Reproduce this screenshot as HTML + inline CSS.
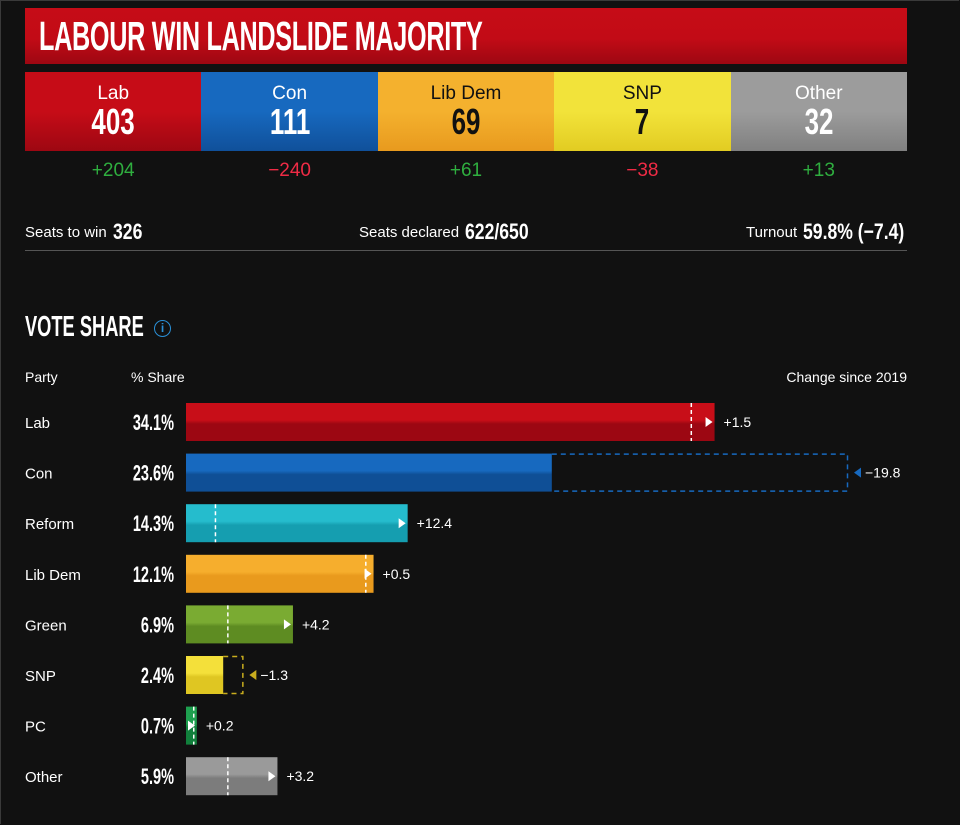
<!DOCTYPE html>
<html><head><meta charset="utf-8"><style>
body{margin:0;background:#111;width:960px;height:825px;overflow:hidden;font-family:"Liberation Sans",sans-serif;color:#fff;position:relative}
.frame{position:absolute;left:0;top:0;width:958px;height:823px;border:1px solid #3a3a3a;border-right:none;border-bottom:none}
.cond{font-weight:bold;display:inline-block}
.banner{position:absolute;left:25px;top:8px;width:882px;height:56px;background:linear-gradient(#c60c17 0%,#c20b16 55%,#9d0712 100%)}
.banner span{position:absolute;left:14px;top:5px;font-size:41px;letter-spacing:-0.5px;transform:scaleX(0.615);transform-origin:left;white-space:nowrap}
.seat{position:absolute;top:72px;height:79px;width:176.4px;text-align:center}
.seat .n{font-size:19px;margin-top:11px}
.seat .v{font-size:36px;line-height:34px;transform:scaleX(0.72)}
.chg{position:absolute;top:160px;width:176.4px;text-align:center;font-size:19px}
.info{position:absolute;top:219px;font-size:15px;white-space:nowrap}
.info b{font-size:22px;margin-left:6px;transform:scaleX(0.8);transform-origin:left;vertical-align:-2px}
.abs{position:absolute}
</style></head><body>
<div class="frame"></div>
<div class="banner"><span class="cond">LABOUR WIN LANDSLIDE MAJORITY</span></div>
<div id="seats"></div>
<div class="info" style="left:25px">Seats to win<b class="cond">326</b></div>
<div class="info" style="left:359px">Seats declared<b class="cond">622/650</b></div>
<div class="info" style="left:746px">Turnout<b class="cond">59.8% (−7.4)</b></div>
<div class="abs" style="left:25px;top:250px;width:882px;height:1px;background:#555"></div>
<div class="abs cond" style="left:25px;top:311px;font-size:29px;transform:scaleX(0.63);transform-origin:left;white-space:nowrap">VOTE SHARE</div>
<div class="abs" style="left:154px;top:320px;width:15px;height:15px;border:1.5px solid #2a8fd6;border-radius:50%;color:#2a8fd6;font-size:12px;text-align:center;line-height:15px;font-weight:bold">i</div>
<div class="abs" style="left:25px;top:369px;font-size:14px">Party</div>
<div class="abs" style="left:131px;top:369px;font-size:14px">% Share</div>
<div class="abs" style="right:53px;top:369px;font-size:14px">Change since 2019</div>
<svg id="chart" class="abs" style="left:0;top:0" width="960" height="825"></svg>
<script>
const seatParties=["Lab","Con","Lib Dem","SNP","Other"];
const seatValues=[403,111,69,7,32];
const seatChanges=[204,-240,61,-38,13];
const parties=["Lab","Con","Reform","Lib Dem","Green","SNP","PC","Other"];
const shares=[34.1,23.6,14.3,12.1,6.9,2.4,0.7,5.9];
const changes=[1.5,-19.8,12.4,0.5,4.2,-1.3,0.2,3.2];
const seatColors=[["#c60c17","#9d0712"],["#1769bf","#10509a"],["#f4b12e","#e89a1e"],["#f2e33a","#e2cc22"],["#9c9c9c","#808080"]];
const barColors=[["#c80e18","#9c0712"],["#1769bf","#0f4f96"],["#25bccd","#159eb0"],["#f6ae2d","#e99a1d"],["#7aab32","#5e8c22"],["#f4e03a","#dfc622"],["#1ea04f","#11803c"],["#9a9a9a","#7c7c7c"]];
const NS="http://www.w3.org/2000/svg";
const seatsDiv=document.getElementById('seats');
seatParties.forEach((p,i)=>{
  const d=document.createElement('div');d.className='seat';
  
  
  d.style.left=(25+i*176.4)+'px';
  d.style.background=`linear-gradient(${seatColors[i][0]} 0%,${seatColors[i][0]} 50%,${seatColors[i][1]} 100%)`;
  d.style.color=(i==2||i==3)?'#111':'#fff';
  d.innerHTML=`<div class="n">${p}</div><div class="v cond">${seatValues[i]}</div>`;
  seatsDiv.appendChild(d);
  const c=document.createElement('div');c.className='chg';
  
  
  c.style.left=(25+i*176.4)+'px';
  c.style.color=seatChanges[i]>=0?'#2fae3f':'#ef2b45';
  c.textContent=(seatChanges[i]>=0?'+':'−')+Math.abs(seatChanges[i]);
  seatsDiv.appendChild(c);
});
const svg=document.getElementById('chart');
const x0=186,pxPer=15.5,xMax=848;
const xs=v=>Math.min(x0+v*pxPer,xMax);
const rowY=i=>403+i*50.6;
const bh=38;
function el(t,a){const e=document.createElementNS(NS,t);for(const k in a)e.setAttribute(k,a[k]);svg.appendChild(e);return e;}
const defs=el('defs',{});
parties.forEach((p,i)=>{
  const y=rowY(i),s=shares[i],c=changes[i],prev=s-c;
  const g=document.createElementNS(NS,'linearGradient');g.id='g'+i;g.setAttribute('x1',0);g.setAttribute('y1',0);g.setAttribute('x2',0);g.setAttribute('y2',1);
  g.innerHTML=`<stop offset="0" stop-color="${barColors[i][0]}"/><stop offset="0.45" stop-color="${barColors[i][0]}"/><stop offset="0.55" stop-color="${barColors[i][1]}"/><stop offset="1" stop-color="${barColors[i][1]}"/>`;
  defs.appendChild(g);
  const lbl=el('text',{x:25,y:y+25,fill:'#fff','font-size':15});lbl.textContent=p;
  
  
  const sh=el('text',{x:0,y:0,transform:`translate(174,${y+27}) scale(0.66,1)`,fill:'#fff','font-size':22,'text-anchor':'end','font-weight':'bold'});sh.textContent=s.toFixed(1)+'%';
  
  
  const xe=xs(s),xp=xs(prev);
  const bar=el('rect',{x:x0,y:y,width:xe-x0,height:bh,fill:'url(#g'+i+')'});
  
  
  let tx;
  if(c>=0){
    const dl=el('line',{x1:xp,y1:y,x2:xp,y2:y+bh,stroke:'#fff','stroke-width':1.5,'stroke-dasharray':'4,3'});
    
    
    const ax=Math.max(xe-9,x0+2);
    const ar=el('path',{d:`M${ax},${y+14}L${ax+7},${y+19}L${ax},${y+24}Z`,fill:'#fff'});
    
    
    tx=xe+9;
  }else{
    const db=el('path',{d:`M${xe},${y+0.5}H${xp-0.5}V${y+bh-0.5}H${xe}`,fill:'none',stroke:i==1?'#1769bf':'#c9ad1e','stroke-width':1.5,'stroke-dasharray':'5,4'});
    
    
    const ax=xp+6;
    const ar=el('path',{d:`M${ax+7},${y+14}L${ax},${y+19}L${ax+7},${y+24}Z`,fill:i==1?'#1769bf':'#c9ad1e'});
    
    
    tx=ax+11;
  }
  const ct=el('text',{x:tx,y:y+24,fill:'#fff','font-size':14});ct.textContent=(c>=0?'+':'−')+Math.abs(c).toFixed(1);
  
  
});
</script>
</body></html>
